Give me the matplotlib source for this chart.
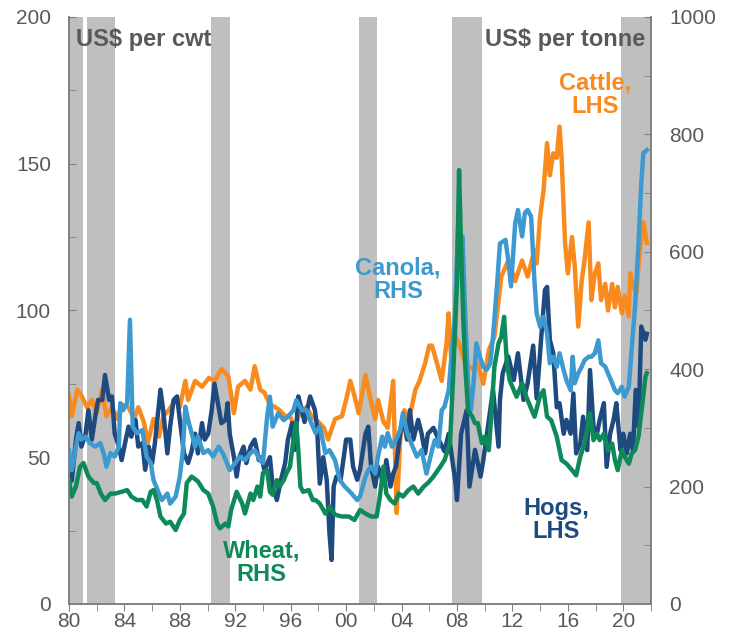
"""
US agricultural commodity prices: cattle and hogs (US$ per cwt, LHS),
canola and wheat (US$ per tonne, RHS), with shaded recession periods.
"""

import matplotlib
matplotlib.use("Agg")
import matplotlib.pyplot as plt
import matplotlib.ticker as mticker

plt.rcParams["font.family"] = ["Liberation Sans", "DejaVu Sans"]

# ── data (decimal year, value) ───────────────────────────────────────────────
CATTLE = [  # US$ per cwt, LHS
    (1980.0, 71), (1980.2, 64), (1980.6, 73), (1980.9, 71), (1981.3, 67), (1981.65, 69.5),
    (1982.0, 65), (1982.4, 73), (1982.7, 64), (1983.1, 67), (1983.5, 63), (1983.8, 68),
    (1984.3, 67), (1984.7, 63), (1985.0, 67), (1985.4, 62), (1985.7, 55), (1986.1, 63),
    (1986.5, 57), (1986.8, 64), (1987.2, 66), (1987.7, 69.5), (1988.0, 67), (1988.4, 76),
    (1988.6, 69.5), (1989.1, 76), (1989.6, 74), (1990.1, 77), (1990.5, 76), (1991.0, 80),
    (1991.5, 77.5), (1991.9, 65), (1992.2, 74), (1992.7, 76), (1993.1, 73), (1993.4, 81),
    (1993.8, 73), (1994.1, 72), (1994.5, 68), (1994.9, 67), (1995.2, 66), (1995.6, 64),
    (1995.95, 64), (1996.3, 60), (1996.7, 66), (1997.15, 67), (1997.5, 64), (1998.0, 62),
    (1998.4, 60), (1998.7, 56), (1999.2, 63), (1999.7, 64), (2000.0, 69.5), (2000.3, 76),
    (2000.6, 71), (2000.9, 65), (2001.4, 78), (2001.7, 71), (2002.1, 63), (2002.3, 69.5),
    (2002.7, 62), (2003.0, 60), (2003.4, 76), (2003.55, 47), (2003.65, 31), (2003.9, 56),
    (2004.2, 66), (2004.5, 62), (2005.0, 73), (2005.3, 76), (2005.7, 82), (2006.0, 88),
    (2006.2, 88), (2006.5, 83), (2006.9, 76), (2007.25, 89), (2007.4, 99), (2007.6, 82),
    (2007.9, 91), (2008.2, 88), (2008.6, 82), (2009.1, 80), (2009.5, 82), (2009.9, 75),
    (2010.3, 86.5), (2010.7, 91), (2011.2, 111.5), (2011.7, 117), (2012.2, 110), (2012.7, 117),
    (2013.1, 111.5), (2013.6, 120.6), (2013.75, 116), (2014.0, 132), (2014.25, 141), (2014.5, 157),
    (2014.7, 146), (2014.95, 153.5), (2015.2, 152), (2015.4, 162.6), (2015.55, 152), (2015.8, 123),
    (2016.0, 112.6), (2016.3, 125), (2016.5, 115), (2016.75, 94.5), (2017.0, 110), (2017.2, 117),
    (2017.5, 130), (2017.7, 103.5), (2017.95, 112.6), (2018.2, 116), (2018.4, 103.5), (2018.7, 109),
    (2018.9, 100), (2019.2, 109), (2019.4, 101), (2019.6, 108), (2019.9, 99), (2020.1, 105),
    (2020.4, 98), (2020.5, 112.6), (2020.7, 108), (2020.95, 106), (2021.2, 120.6), (2021.45, 130),
    (2021.7, 123),
]

HOGS = [  # US$ per cwt, LHS
    (1980.0, 46), (1980.2, 42), (1980.5, 56), (1980.7, 61.6), (1980.9, 53.6), (1981.2, 58),
    (1981.4, 66), (1981.65, 56), (1981.9, 64), (1982.1, 69.5), (1982.4, 69.5), (1982.6, 78),
    (1982.9, 69.5), (1983.1, 70.7), (1983.3, 58), (1983.6, 53.6), (1983.8, 49), (1984.1, 56),
    (1984.3, 60.4), (1984.5, 57), (1984.8, 62.7), (1985.0, 53.6), (1985.3, 54.8), (1985.5, 45.7),
    (1985.75, 53.6), (1986.0, 48), (1986.2, 54.8), (1986.6, 73), (1986.8, 66), (1987.1, 51.3),
    (1987.3, 60.4), (1987.55, 69.5), (1987.8, 70.7), (1988.0, 62.7), (1988.3, 51.3), (1988.6, 48),
    (1988.85, 52), (1989.1, 58), (1989.3, 51.3), (1989.6, 61.6), (1989.8, 56), (1990.05, 58),
    (1990.3, 66), (1990.5, 75), (1990.8, 67), (1991.0, 61.6), (1991.3, 62.7), (1991.45, 68.4),
    (1991.6, 58), (1991.9, 50), (1992.1, 43.4), (1992.3, 50), (1992.6, 53.6), (1992.8, 48),
    (1993.1, 53.6), (1993.4, 56), (1993.7, 49), (1993.9, 50), (1994.1, 45.7), (1994.5, 50),
    (1994.7, 40), (1995.0, 35.4), (1995.3, 42.3), (1995.6, 48), (1995.8, 56), (1996.1, 61.6),
    (1996.3, 52.5), (1996.55, 70.7), (1996.8, 66), (1997.0, 62), (1997.4, 70.7), (1997.75, 66),
    (1997.9, 60.4), (1998.1, 41), (1998.35, 50), (1998.6, 42.3), (1998.8, 24), (1998.95, 15),
    (1999.1, 40), (1999.3, 43.4), (1999.6, 42.3), (1999.8, 49), (2000.0, 56), (2000.3, 56),
    (2000.5, 46.8), (2000.8, 42.3), (2001.0, 45.7), (2001.4, 58), (2001.6, 60.4), (2001.8, 46.8),
    (2002.1, 40), (2002.3, 46.8), (2002.7, 41), (2002.9, 49), (2003.2, 40), (2003.4, 44.5),
    (2003.6, 46.8), (2003.9, 58), (2004.1, 64), (2004.4, 56), (2004.6, 66), (2004.85, 56),
    (2005.2, 62.7), (2005.45, 58), (2005.7, 51.3), (2005.9, 58), (2006.3, 60), (2006.8, 54.8),
    (2007.1, 52), (2007.4, 58), (2007.9, 41), (2008.0, 35.4), (2008.3, 58), (2008.7, 66),
    (2008.9, 40), (2009.3, 52.5), (2009.7, 43.4), (2009.9, 49), (2010.3, 62.7), (2010.6, 72.9),
    (2011.0, 53.6), (2011.1, 69.5), (2011.3, 78.6), (2011.7, 84.3), (2012.1, 76.3), (2012.4, 85.4),
    (2012.8, 69.5), (2013.1, 75.2), (2013.5, 88), (2013.75, 70), (2014.1, 92), (2014.35, 107),
    (2014.5, 108), (2014.7, 90), (2014.95, 85.4), (2015.2, 67), (2015.4, 68.4), (2015.7, 58),
    (2015.9, 62.7), (2016.2, 58), (2016.4, 71.7), (2016.6, 51.3), (2016.9, 54.7), (2017.1, 63.8),
    (2017.4, 52.4), (2017.6, 79.7), (2017.85, 60.4), (2018.1, 58), (2018.3, 62.7), (2018.6, 68.4),
    (2018.8, 46.7), (2019.05, 58), (2019.3, 62.7), (2019.5, 68.4), (2019.8, 52.4), (2020.0, 58),
    (2020.25, 51.3), (2020.5, 58), (2020.7, 52.4), (2020.9, 72.9), (2021.1, 60.4), (2021.3, 94.5),
    (2021.6, 90), (2021.7, 92),
]

CANOLA = [  # US$ per tonne, RHS
    (1980.0, 262), (1980.2, 228), (1980.5, 268), (1980.7, 291), (1980.9, 280), (1981.2, 285),
    (1981.5, 274), (1981.9, 268), (1982.25, 274), (1982.5, 257), (1982.7, 234), (1983.0, 257),
    (1983.3, 251), (1983.6, 268), (1983.7, 342), (1983.9, 330), (1984.2, 342), (1984.4, 484),
    (1984.6, 302), (1984.9, 291), (1985.3, 296), (1985.6, 251), (1985.9, 240), (1986.1, 211),
    (1986.5, 188), (1986.7, 177), (1987.1, 188), (1987.3, 171), (1987.7, 183), (1988.0, 217),
    (1988.2, 257), (1988.4, 336), (1988.6, 313), (1988.85, 291), (1989.1, 268), (1989.3, 285),
    (1989.7, 257), (1990.05, 262), (1990.4, 251), (1990.8, 268), (1991.1, 257), (1991.4, 240),
    (1991.6, 228), (1992.0, 240), (1992.3, 251), (1992.7, 245), (1993.1, 257), (1993.4, 262),
    (1993.8, 245), (1994.0, 240), (1994.3, 319), (1994.5, 353), (1994.7, 302), (1995.1, 325),
    (1995.5, 313), (1995.8, 319), (1996.2, 330), (1996.4, 347), (1996.8, 330), (1997.15, 330),
    (1997.4, 313), (1997.8, 291), (1998.1, 302), (1998.5, 257), (1998.8, 262), (1999.2, 245),
    (1999.55, 211), (1999.9, 200), (2000.4, 188), (2000.8, 177), (2001.0, 183), (2001.4, 217),
    (2001.6, 228), (2001.8, 234), (2002.1, 222), (2002.3, 251), (2002.6, 285), (2002.8, 268),
    (2003.0, 291), (2003.3, 268), (2003.6, 280), (2003.9, 296), (2004.1, 325), (2004.4, 291),
    (2004.7, 274), (2005.1, 251), (2005.45, 262), (2005.8, 222), (2006.2, 262), (2006.4, 279),
    (2006.65, 268), (2006.9, 330), (2007.1, 336), (2007.4, 364), (2007.6, 421), (2007.85, 489),
    (2008.1, 654), (2008.2, 614), (2008.4, 626), (2008.6, 489), (2008.8, 376), (2009.0, 330),
    (2009.2, 376), (2009.4, 444), (2009.65, 421), (2009.9, 404), (2010.15, 399), (2010.4, 410),
    (2010.6, 455), (2010.9, 546), (2011.1, 614), (2011.5, 620), (2011.7, 586), (2011.9, 541),
    (2012.2, 648), (2012.4, 671), (2012.7, 626), (2012.9, 666), (2013.1, 671), (2013.35, 660),
    (2013.6, 546), (2013.75, 495), (2014.0, 472), (2014.25, 489), (2014.5, 461), (2014.7, 410),
    (2014.95, 421), (2015.2, 404), (2015.4, 427), (2015.7, 398), (2015.9, 381), (2016.2, 364),
    (2016.35, 421), (2016.5, 376), (2016.75, 393), (2017.0, 404), (2017.2, 415), (2017.5, 421),
    (2017.7, 421), (2017.95, 427), (2018.2, 449), (2018.4, 410), (2018.7, 404), (2018.9, 393),
    (2019.2, 376), (2019.4, 364), (2019.6, 359), (2019.9, 370), (2020.1, 353), (2020.4, 370),
    (2020.6, 432), (2020.85, 506), (2021.1, 614), (2021.3, 716), (2021.45, 768), (2021.7, 773),
]

WHEAT = [  # US$ per tonne, RHS
    (1980.0, 211), (1980.2, 183), (1980.5, 200), (1980.8, 234), (1981.05, 240), (1981.4, 217),
    (1981.8, 206), (1982.0, 206), (1982.3, 188), (1982.6, 177), (1983.0, 188), (1983.3, 188),
    (1983.8, 191), (1984.2, 194), (1984.5, 183), (1984.9, 177), (1985.3, 177), (1985.6, 166),
    (1985.9, 191), (1986.1, 194), (1986.35, 177), (1986.6, 149), (1987.0, 137), (1987.3, 140),
    (1987.7, 126), (1988.0, 143), (1988.3, 154), (1988.5, 206), (1988.85, 217), (1989.3, 209),
    (1989.7, 194), (1990.05, 188), (1990.4, 166), (1990.7, 137), (1990.9, 129), (1991.3, 137),
    (1991.5, 132), (1991.7, 160), (1992.1, 191), (1992.5, 171), (1992.7, 154), (1993.1, 188),
    (1993.3, 177), (1993.6, 200), (1993.8, 183), (1994.0, 223), (1994.3, 228), (1994.5, 191),
    (1994.7, 186), (1995.0, 211), (1995.2, 200), (1995.5, 211), (1995.7, 223), (1995.95, 234),
    (1996.2, 280), (1996.4, 308), (1996.55, 262), (1996.7, 200), (1996.9, 191), (1997.3, 194),
    (1997.6, 177), (1997.8, 177), (1998.1, 171), (1998.5, 154), (1998.8, 166), (1999.2, 152),
    (1999.7, 149), (2000.2, 149), (2000.6, 143), (2001.0, 160), (2001.4, 154), (2001.8, 149),
    (2002.2, 149), (2002.4, 177), (2002.7, 234), (2002.9, 188), (2003.2, 177), (2003.5, 171),
    (2003.8, 188), (2004.1, 183), (2004.5, 194), (2004.85, 200), (2005.2, 188), (2005.6, 200),
    (2005.9, 206), (2006.3, 217), (2006.8, 234), (2007.1, 245), (2007.5, 274), (2007.7, 376),
    (2008.0, 546), (2008.15, 739), (2008.3, 603), (2008.45, 489), (2008.6, 404), (2008.8, 330),
    (2009.1, 319), (2009.3, 308), (2009.5, 308), (2009.8, 274), (2010.0, 285), (2010.3, 262),
    (2010.5, 330), (2010.7, 404), (2011.0, 444), (2011.2, 455), (2011.4, 489), (2011.6, 410),
    (2011.8, 381), (2012.1, 364), (2012.3, 353), (2012.7, 376), (2013.0, 353), (2013.4, 330),
    (2013.6, 319), (2014.0, 355), (2014.25, 364), (2014.5, 319), (2014.8, 313), (2015.2, 285),
    (2015.55, 245), (2015.9, 239), (2016.3, 228), (2016.6, 219), (2016.9, 251), (2017.2, 273),
    (2017.6, 325), (2017.85, 279), (2018.1, 290), (2018.3, 279), (2018.6, 290), (2018.9, 262),
    (2019.2, 273), (2019.4, 245), (2019.6, 228), (2019.9, 262), (2020.1, 251), (2020.4, 239),
    (2020.6, 256), (2020.85, 262), (2021.1, 285), (2021.3, 325), (2021.6, 387), (2021.7, 393),
]

RECESSIONS = [(1980.0, 1981.0), (1981.3, 1983.3), (1990.25, 1991.6),
              (2000.93, 2002.2), (2007.65, 2009.83), (2019.85, 2022.0)]

X_TICKS = list(range(1980, 2022, 4))
X_LABELS = [f"{y % 100:02d}" for y in X_TICKS]

# ── style ────────────────────────────────────────────────────────────────────
C_CATTLE = "#F98B1E"
C_HOGS = "#1E4A80"
C_CANOLA = "#3D9AD0"
C_WHEAT = "#0E8A5A"
C_GREY = "#BFBFBF"
C_TEXT = "#595959"
C_AXIS = "#808080"
LW = 3.2
FS_TICK = 15
FS_LBL = 17

fig = plt.figure(figsize=(7.33, 6.3), dpi=100)
ax = fig.add_axes([0.0941, 0.0413, 0.794, 0.932])
ax2 = ax.twinx()

for x0, x1 in RECESSIONS:
    ax.axvspan(x0, x1, color=C_GREY, lw=0, zorder=0)

for series, col in ((CATTLE, C_CATTLE), (HOGS, C_HOGS)):
    xs, ys = zip(*series)
    ax.plot(xs, ys, color=col, lw=LW, solid_joinstyle="round", zorder=2)
for series, col in ((CANOLA, C_CANOLA), (WHEAT, C_WHEAT)):
    xs, ys = zip(*series)
    ax2.plot(xs, ys, color=col, lw=LW, solid_joinstyle="round", zorder=2)

# axes
ax.set_xlim(1980, 2022.0)
ax.set_ylim(0, 200)
ax2.set_ylim(0, 1000)

ax.yaxis.set_major_locator(mticker.MultipleLocator(50))
ax.yaxis.set_minor_locator(mticker.MultipleLocator(25))
ax2.yaxis.set_major_locator(mticker.MultipleLocator(200))
ax2.yaxis.set_minor_locator(mticker.MultipleLocator(100))
ax.set_xticks(X_TICKS)
ax.set_xticklabels(X_LABELS)
ax.xaxis.set_minor_locator(mticker.MultipleLocator(2))

for a in (ax, ax2):
    a.spines["top"].set_visible(False)
    for s in ("left", "right", "bottom"):
        a.spines[s].set_color(C_AXIS)
        a.spines[s].set_linewidth(1.2)
ax.tick_params(axis="y", which="both", direction="in", length=5, color=C_AXIS,
               labelsize=FS_TICK, labelcolor=C_TEXT, pad=13)
ax2.tick_params(axis="y", which="both", direction="in", length=5, color=C_AXIS,
                labelsize=FS_TICK, labelcolor=C_TEXT, pad=13)
ax.tick_params(axis="x", which="both", direction="out", length=5, color=C_AXIS,
               labelsize=FS_TICK, labelcolor=C_TEXT, pad=1)

# unit labels
ax.text(0.012, 0.962, "US$ per cwt", transform=ax.transAxes, ha="left", va="center",
        fontsize=FS_LBL, fontweight="bold", color=C_TEXT, zorder=5)
ax.text(0.99, 0.962, "US$ per tonne", transform=ax.transAxes, ha="right", va="center",
        fontsize=FS_LBL, fontweight="bold", color=C_TEXT, zorder=5)

# series labels
lbl = dict(ha="center", va="center", fontsize=FS_LBL, fontweight="bold", linespacing=1.0)
ax2.text(2018.0, 867, "Cattle,\nLHS", color=C_CATTLE, **lbl)
ax2.text(2003.75, 552, "Canola,\nRHS", color=C_CANOLA, **lbl)
ax2.text(2015.15, 143, "Hogs,\nLHS", color=C_HOGS, **lbl)
ax2.text(1993.9, 70, "Wheat,\nRHS", color=C_WHEAT, **lbl)

plt.savefig("out.png", dpi=100)
